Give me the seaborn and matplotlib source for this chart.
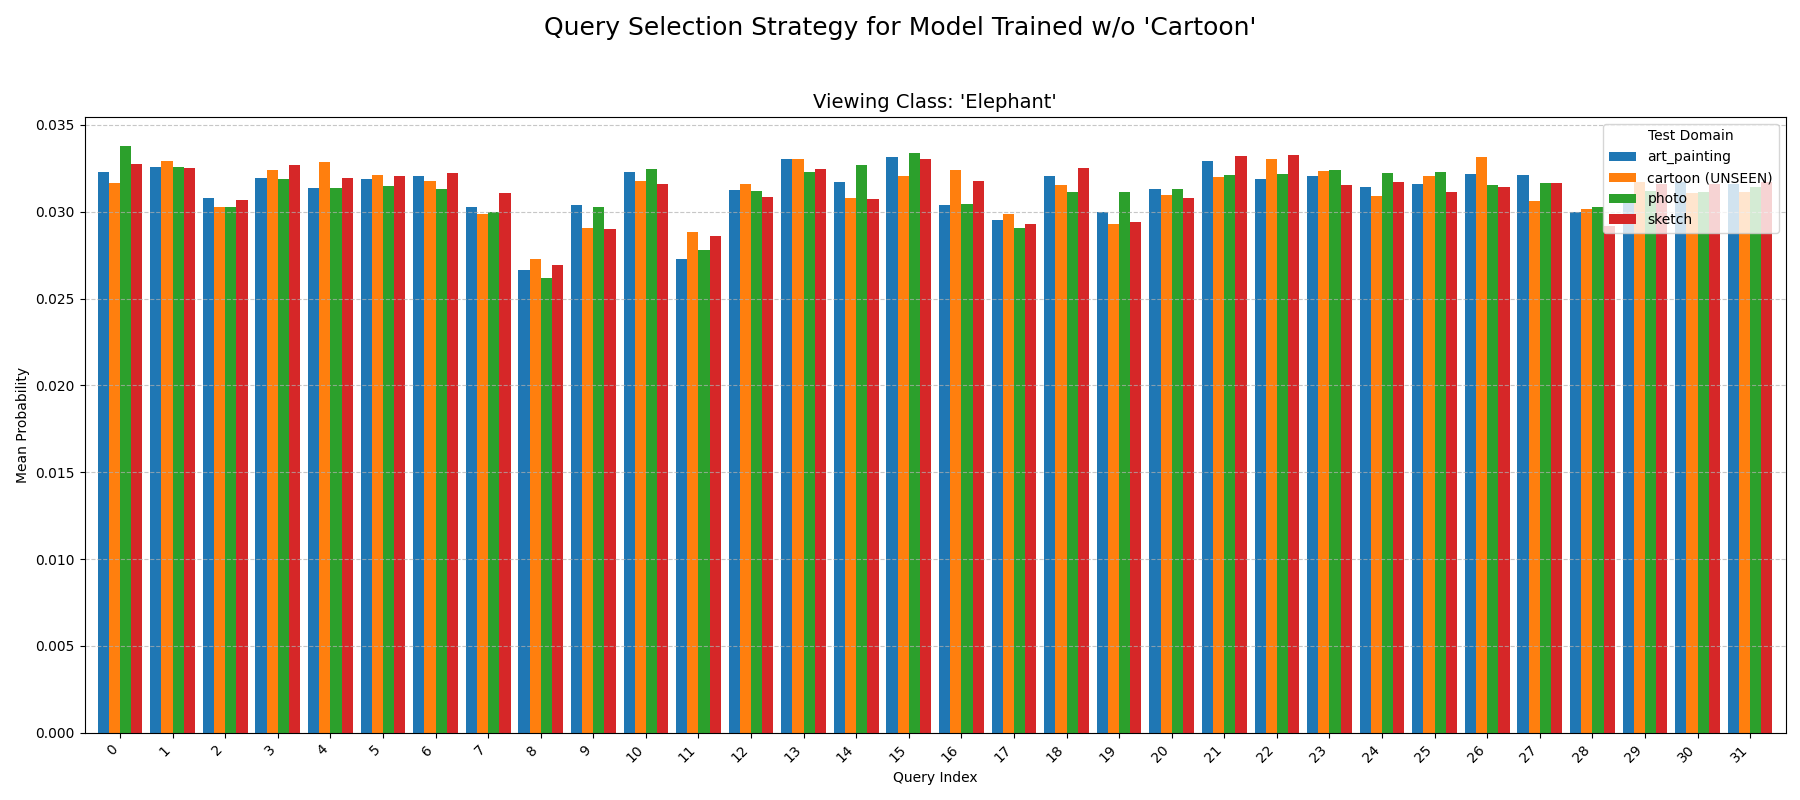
import matplotlib
matplotlib.use("Agg")
import matplotlib.pyplot as plt
import seaborn as sns
import pandas as pd

query_index = list(range(32))
domains = ["art_painting", "cartoon (UNSEEN)", "photo", "sketch"]

art_painting = [0.03227, 0.03256, 0.03077, 0.03193, 0.03135, 0.03187, 0.03204, 0.03025,
                0.02667, 0.03037, 0.03227, 0.02730, 0.03123, 0.03303, 0.03170, 0.03314,
                0.03037, 0.02950, 0.03204, 0.03000, 0.03129, 0.03291, 0.03187, 0.03204,
                0.03141, 0.03158, 0.03216, 0.03210, 0.03000, 0.03052, 0.03172, 0.03159]
cartoon = [0.03164, 0.03291, 0.03025, 0.03239, 0.03285, 0.03210, 0.03175, 0.02985,
           0.02730, 0.02904, 0.03175, 0.02886, 0.03158, 0.03303, 0.03077, 0.03204,
           0.03239, 0.02985, 0.03152, 0.02927, 0.03094, 0.03198, 0.03303, 0.03233,
           0.03089, 0.03204, 0.03314, 0.03060, 0.03014, 0.03172, 0.03108, 0.03114]
photo = [0.03378, 0.03256, 0.03025, 0.03187, 0.03135, 0.03146, 0.03129, 0.02996,
         0.02620, 0.03025, 0.03245, 0.02782, 0.03118, 0.03227, 0.03268, 0.03337,
         0.03042, 0.02909, 0.03112, 0.03112, 0.03129, 0.03210, 0.03216, 0.03239,
         0.03222, 0.03227, 0.03152, 0.03164, 0.03025, 0.03118, 0.03114, 0.03141]
sketch = [0.03274, 0.03250, 0.03066, 0.03268, 0.03193, 0.03204, 0.03222, 0.03106,
          0.02696, 0.02898, 0.03158, 0.02863, 0.03083, 0.03245, 0.03071, 0.03303,
          0.03175, 0.02927, 0.03250, 0.02944, 0.03077, 0.03320, 0.03326, 0.03152,
          0.03170, 0.03112, 0.03141, 0.03164, 0.02920, 0.03159, 0.03159, 0.03172]

series = [art_painting, cartoon, photo, sketch]
rows = []
for dom, vals in zip(domains, series):
    for q, v in zip(query_index, vals):
        rows.append({"Query Index": q, "Mean Probability": v, "Test Domain": dom})
df = pd.DataFrame(rows)

plt.rcParams["font.family"] = ["DejaVu Sans"]
plt.rcParams["axes.axisbelow"] = "line"

fig, ax = plt.subplots(figsize=(18, 8), dpi=100)
palette = ["#1f77b4", "#ff7f0e", "#2ca02c", "#d62728"]
sns.barplot(data=df, x="Query Index", y="Mean Probability", hue="Test Domain",
            hue_order=domains, palette=palette, saturation=1, width=0.85,
            errorbar=None, ax=ax)

ax.set_xlim(-0.675, len(query_index) - 1 + 0.675)
ax.grid(axis="y", linestyle="--", alpha=0.7)
ax.set_xticks(range(len(query_index)))
ax.set_xticklabels([str(q) for q in query_index], rotation=45, ha="right")
ax.set_xlabel("Query Index")
ax.set_ylabel("Mean Probability")
ax.set_title("Viewing Class: 'Elephant'", fontsize=14)
handles, labels = ax.get_legend_handles_labels()
ax.legend(handles, labels, title="Test Domain", loc="upper right")
for s in ax.spines.values():
    s.set_visible(True)

fig.suptitle("Query Selection Strategy for Model Trained w/o 'Cartoon'", fontsize=18)
fig.subplots_adjust(left=0.047, right=0.992, top=0.854, bottom=0.084)
fig.savefig("out.png", dpi=100)
